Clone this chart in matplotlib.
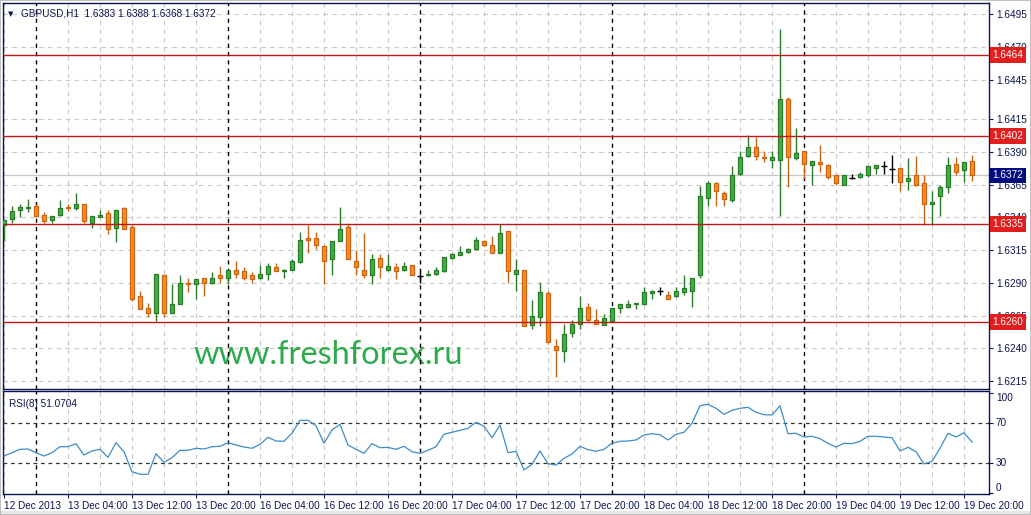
import numpy as np
import matplotlib
matplotlib.use("Agg")
import matplotlib.pyplot as plt
from matplotlib.patches import Rectangle
from matplotlib.transforms import blended_transform_factory

# GBPUSD H1, 12 Dec 20:00 .. 19 Dec 21:00 (122 bars)
opens = [1.6334, 1.6339, 1.6346, 1.6347, 1.6349, 1.6342, 1.6338, 1.6342, 1.6348, 1.6347,
         1.6350, 1.6336, 1.6340, 1.6343, 1.6332, 1.6347, 1.6333, 1.6280, 1.6271, 1.6267,
         1.6296, 1.6267, 1.6274, 1.6290, 1.6289, 1.6294, 1.6290, 1.6296, 1.6294, 1.6300,
         1.6299, 1.6296, 1.6294, 1.6297, 1.6302, 1.6299, 1.6300, 1.6306, 1.6324, 1.6324,
         1.6318, 1.6308, 1.6322, 1.6333, 1.6307, 1.6300, 1.6296, 1.6309, 1.6300, 1.6302,
         1.6300, 1.6304, 1.6295, 1.6296, 1.6297, 1.6299, 1.6309, 1.6311, 1.6314, 1.6316,
         1.6322, 1.6319, 1.6313, 1.6330, 1.6297, 1.6300, 1.6258, 1.6264, 1.6282, 1.6242,
         1.6238, 1.6252, 1.6259, 1.6272, 1.6262, 1.6258, 1.6261, 1.6271, 1.6272, 1.6274,
         1.6274, 1.6282, 1.6284, 1.6281, 1.6280, 1.6283, 1.6284, 1.6296, 1.6355, 1.6366,
         1.6359, 1.6353, 1.6373, 1.6387, 1.6394, 1.6386, 1.6384, 1.6384, 1.6430, 1.6385,
         1.6391, 1.6380, 1.6382, 1.6380, 1.6372, 1.6365, 1.6370, 1.6371, 1.6372, 1.6378,
         1.6379, 1.6377, 1.6378, 1.6368, 1.6372, 1.6366, 1.6350, 1.6356, 1.6363, 1.6381,
         1.6376, 1.6383]
highs = [1.6338, 1.6349, 1.6350, 1.6354, 1.6350, 1.6344, 1.6341, 1.6353, 1.6350, 1.6359,
         1.6350, 1.6341, 1.6346, 1.6346, 1.6346, 1.6348, 1.6334, 1.6284, 1.6275, 1.6297,
         1.6297, 1.6289, 1.6296, 1.6294, 1.6293, 1.6294, 1.6298, 1.6303, 1.6300, 1.6307,
         1.6302, 1.6298, 1.6304, 1.6305, 1.6305, 1.6301, 1.6308, 1.6329, 1.6334, 1.6329,
         1.6319, 1.6322, 1.6348, 1.6335, 1.6315, 1.6328, 1.6312, 1.6312, 1.6312, 1.6305,
         1.6306, 1.6304, 1.6299, 1.6300, 1.6302, 1.6310, 1.6313, 1.6318, 1.6317, 1.6325,
         1.6323, 1.6326, 1.6335, 1.6330, 1.6308, 1.6300, 1.6277, 1.6291, 1.6284, 1.6247,
         1.6259, 1.6262, 1.6280, 1.6275, 1.6270, 1.6266, 1.6271, 1.6274, 1.6277, 1.6275,
         1.6287, 1.6285, 1.6287, 1.6284, 1.6287, 1.6296, 1.6294, 1.6364, 1.6368, 1.6367,
         1.6360, 1.6379, 1.6391, 1.6403, 1.6401, 1.6391, 1.6391, 1.6484, 1.6432, 1.6408,
         1.6391, 1.6383, 1.6395, 1.6381, 1.6372, 1.6372, 1.6373, 1.6375, 1.6379, 1.6380,
         1.6383, 1.6388, 1.6378, 1.6385, 1.6387, 1.6372, 1.6360, 1.6365, 1.6386, 1.6386,
         1.6382, 1.6388]
lows = [1.6322, 1.6336, 1.6340, 1.6344, 1.6340, 1.6336, 1.6336, 1.6341, 1.6345, 1.6346,
        1.6336, 1.6332, 1.6340, 1.6327, 1.6321, 1.6331, 1.6276, 1.6270, 1.6264, 1.6261,
        1.6264, 1.6267, 1.6274, 1.6283, 1.6278, 1.6280, 1.6289, 1.6290, 1.6289, 1.6294,
        1.6292, 1.6290, 1.6293, 1.6292, 1.6299, 1.6294, 1.6300, 1.6305, 1.6313, 1.6316,
        1.6289, 1.6296, 1.6322, 1.6308, 1.6296, 1.6294, 1.6289, 1.6294, 1.6299, 1.6293,
        1.6299, 1.6296, 1.6290, 1.6295, 1.6296, 1.6298, 1.6308, 1.6311, 1.6313, 1.6315,
        1.6318, 1.6313, 1.6313, 1.6290, 1.6284, 1.6257, 1.6255, 1.6257, 1.6244, 1.6218,
        1.6230, 1.6249, 1.6255, 1.6261, 1.6259, 1.6258, 1.6261, 1.6267, 1.6271, 1.6270,
        1.6274, 1.6278, 1.6281, 1.6278, 1.6279, 1.6281, 1.6272, 1.6294, 1.6349, 1.6349,
        1.6349, 1.6352, 1.6372, 1.6386, 1.6384, 1.6382, 1.6378, 1.6341, 1.6363, 1.6384,
        1.6370, 1.6365, 1.6375, 1.6369, 1.6365, 1.6365, 1.6369, 1.6370, 1.6371, 1.6373,
        1.6373, 1.6366, 1.6360, 1.6361, 1.6364, 1.6334, 1.6334, 1.6341, 1.6359, 1.6372,
        1.6367, 1.6368]
closes = [1.6338, 1.6345, 1.6348, 1.6348, 1.6341, 1.6337, 1.6341, 1.6347, 1.6347, 1.6350,
          1.6337, 1.6341, 1.6342, 1.6331, 1.6346, 1.6331, 1.6278, 1.6270, 1.6267, 1.6297,
          1.6267, 1.6274, 1.6290, 1.6289, 1.6293, 1.6290, 1.6294, 1.6294, 1.6300, 1.6297,
          1.6294, 1.6293, 1.6297, 1.6303, 1.6299, 1.6300, 1.6307, 1.6323, 1.6323, 1.6319,
          1.6307, 1.6322, 1.6331, 1.6308, 1.6302, 1.6296, 1.6308, 1.6302, 1.6303, 1.6299,
          1.6303, 1.6296, 1.6295, 1.6297, 1.6300, 1.6310, 1.6312, 1.6314, 1.6316, 1.6323,
          1.6319, 1.6313, 1.6328, 1.6299, 1.6300, 1.6257, 1.6265, 1.6283, 1.6245, 1.6239,
          1.6251, 1.6259, 1.6271, 1.6262, 1.6259, 1.6263, 1.6271, 1.6274, 1.6274, 1.6275,
          1.6283, 1.6284, 1.6284, 1.6278, 1.6284, 1.6286, 1.6294, 1.6356, 1.6366, 1.6360,
          1.6354, 1.6372, 1.6386, 1.6394, 1.6387, 1.6385, 1.6386, 1.6430, 1.6386, 1.6389,
          1.6381, 1.6383, 1.6381, 1.6371, 1.6366, 1.6372, 1.6370, 1.6373, 1.6379, 1.6380,
          1.6379, 1.6377, 1.6367, 1.6370, 1.6365, 1.6350, 1.6352, 1.6363, 1.6380, 1.6375,
          1.6382, 1.6372]

rsi = [37.3, 40.6, 44.0, 44.3, 40.6, 37.3, 40.6, 46.6, 46.6, 49.6,
       38.3, 42.3, 44.0, 36.0, 50.6, 41.6, 21.6, 19.0, 19.0, 39.6,
       31.0, 35.6, 43.0, 43.0, 45.0, 44.3, 46.6, 47.0, 50.6, 48.3,
       46.3, 45.0, 49.0, 56.0, 52.3, 52.0, 60.0, 73.0, 73.0, 67.6,
       50.0, 63.3, 69.0, 48.3, 44.0, 40.0, 49.6, 45.6, 45.9, 44.0,
       47.0, 41.6, 40.0, 43.0, 46.6, 59.0, 61.0, 63.0, 65.0, 71.0,
       67.0, 55.6, 68.3, 40.6, 42.0, 23.3, 29.0, 42.3, 29.6, 28.3,
       35.0, 39.3, 47.0, 43.6, 42.0, 44.0, 50.0, 52.0, 52.3, 53.3,
       58.3, 59.6, 58.6, 53.3, 59.0, 61.0, 70.0, 87.6, 89.0, 85.0,
       79.0, 83.0, 85.0, 86.0, 81.0, 78.6, 78.3, 87.6, 59.6, 60.0,
       56.3, 57.0, 54.6, 50.0, 46.3, 50.0, 49.6, 52.0, 57.0, 57.0,
       56.3, 55.6, 42.3, 46.0, 41.6, 29.3, 32.0, 45.0, 60.0, 56.3,
       60.6, 51.3]

tick_labels = ["12 Dec 2013", "13 Dec 04:00", "13 Dec 12:00", "13 Dec 20:00",
               "16 Dec 04:00", "16 Dec 12:00", "16 Dec 20:00", "17 Dec 04:00",
               "17 Dec 12:00", "17 Dec 20:00", "18 Dec 04:00", "18 Dec 12:00",
               "18 Dec 20:00", "19 Dec 04:00", "19 Dec 12:00", "19 Dec 20:00"]
price_ticks = [1.6215, 1.6240, 1.6265, 1.6290, 1.6315, 1.6340, 1.6365, 1.6390,
               1.6415, 1.6445, 1.6470, 1.6495]
levels = [1.6464, 1.6402, 1.6335, 1.6260]
day_starts = [4, 28, 52, 76, 100]
last_price = 1.6372

o = np.array(opens); h = np.array(highs); l = np.array(lows); c = np.array(closes)
x = np.arange(len(o))

W, H = 1031, 515
fig = plt.figure(figsize=(W / 100, H / 100), dpi=100)
fig.patch.set_facecolor("white")
ax = fig.add_axes([3 / W, 1 - 389 / H, 986 / W, 386 / H])
ax2 = fig.add_axes([3 / W, 1 - 494 / H, 986 / W, 103 / H], sharex=ax)

# thin window frame and tab strip like the terminal window
fig.patches.append(Rectangle((0, 0), 1, 4 / H, transform=fig.transFigure,
                             fc="#e6e6e6", ec="none", zorder=0))
fig.patches.append(Rectangle((0, 0), 1, 1, transform=fig.transFigure,
                             fill=False, ec="#b4b4b4", lw=1.2, zorder=0))

font = "Liberation Sans"
navy = "#0b1450"
fs = 7.2
grid_kw = dict(color="#c8c8c8", lw=0.8, ls=(0, (4, 4)), zorder=0)
sep_kw = dict(color="black", lw=1.0, ls=(0, (3, 3)), zorder=3)

for a in (ax, ax2):
    for s in a.spines.values():
        s.set_color(navy)
        s.set_linewidth(1.0)
    for i in range(0, len(x), 4):
        if i not in day_starts:
            a.axvline(i, **grid_kw)
    for d in day_starts:
        a.axvline(d, **sep_kw)

# price panel
ax.set_xlim(-0.125, 123.125)
ax.set_ylim(1.62091, 1.65036)
for p in price_ticks:
    ax.axhline(p, **grid_kw)
ax.axhline(last_price, color="#c8c8c8", lw=0.9, zorder=0.5)

up = c > o
doji = c == o
green_f, green_e = "#3cb43c", "#2a7a2a"
orange_f, orange_e = "#ff8c1e", "#c86414"
for i in x:
    if doji[i]:
        ax.vlines(i, l[i], h[i], color="black", lw=1.0, zorder=4)
        ax.hlines(c[i], i - 0.35, i + 0.35, color="black", lw=1.0, zorder=4)
        continue
    fcol, ecol = (green_f, green_e) if up[i] else (orange_f, orange_e)
    ax.vlines(i, l[i], h[i], color=ecol, lw=1.0, zorder=4)
    bot = min(o[i], c[i])
    ht = max(abs(c[i] - o[i]), 0.00004)
    ax.bar(i, ht, bottom=bot, width=0.6, color=fcol, edgecolor=ecol, lw=0.9, zorder=5)

for lv in levels:
    ax.axhline(lv, color="#c01818", lw=1.0, zorder=6)

ax.yaxis.tick_right()
ax.set_yticks(price_ticks)
ax.set_yticklabels([f"{p:.4f}" for p in price_ticks], fontsize=fs, family=font, color=navy)
ax.tick_params(axis="y", length=3, width=0.8, color=navy, pad=2)
ax.tick_params(axis="x", bottom=False, labelbottom=False)

tr = blended_transform_factory(ax.transAxes, ax.transData)
for lv in levels:
    ax.text(1.0035, lv, f"{lv:.4f}", transform=tr, fontsize=fs, family=font, color="white",
            va="center", ha="left", zorder=10, clip_on=False,
            bbox=dict(boxstyle="square,pad=0.28", fc="#e01e1e", ec="none"))
ax.text(1.0035, last_price, f"{last_price:.4f}", transform=tr, fontsize=fs, family=font,
        color="white", va="center", ha="left", zorder=10, clip_on=False,
        bbox=dict(boxstyle="square,pad=0.28", fc="#000c80", ec="none"))

ax.text(0.005, 0.972, "\u25bc", transform=ax.transAxes, fontsize=5, color=navy,
        va="center", ha="left", family="DejaVu Sans")
ax.text(0.018, 0.972, f"GBPUSD,H1  {o[-1]:.4f} {h[-1]:.4f} {l[-1]:.4f} {c[-1]:.4f}",
        transform=ax.transAxes, fontsize=fs, color=navy, va="center", ha="left", family=font)

ax.text(0.1927, 0.0648, "www.freshforex.ru", transform=ax.transAxes, fontsize=23.4,
        family="Lato", color="#2daa4b", va="baseline", ha="left", zorder=2)

# RSI panel
ax2.set_ylim(-0.7, 102.3)
ax2.plot(x, rsi, color="#3c8cc8", lw=0.9, zorder=4)
for lv in (70, 30):
    ax2.axhline(lv, color="#2a3a2a", lw=0.9, ls=(0, (3, 3)), zorder=3)
ax2.yaxis.tick_right()
ax2.set_yticks([0, 30, 70, 100])
ax2.set_yticklabels(["0", "30", "70", "100"], fontsize=fs, family=font, color=navy)
ax2.tick_params(axis="y", length=3, width=0.8, color=navy, pad=2)
for lab, va in zip(ax2.get_yticklabels(), ["bottom", "center", "center", "top"]):
    lab.set_va(va)

ax2.set_xticks(x[::8])
ax2.set_xticklabels(tick_labels, fontsize=fs, family=font, color=navy, ha="left")
ax2.tick_params(axis="x", length=3, width=0.8, color=navy, pad=2)
ax2.text(0.006, 0.92, "RSI(8) 51.0704", transform=ax2.transAxes, fontsize=fs,
         family=font, color=navy, va="top", ha="left")

fig.savefig("out.png", dpi=100)
